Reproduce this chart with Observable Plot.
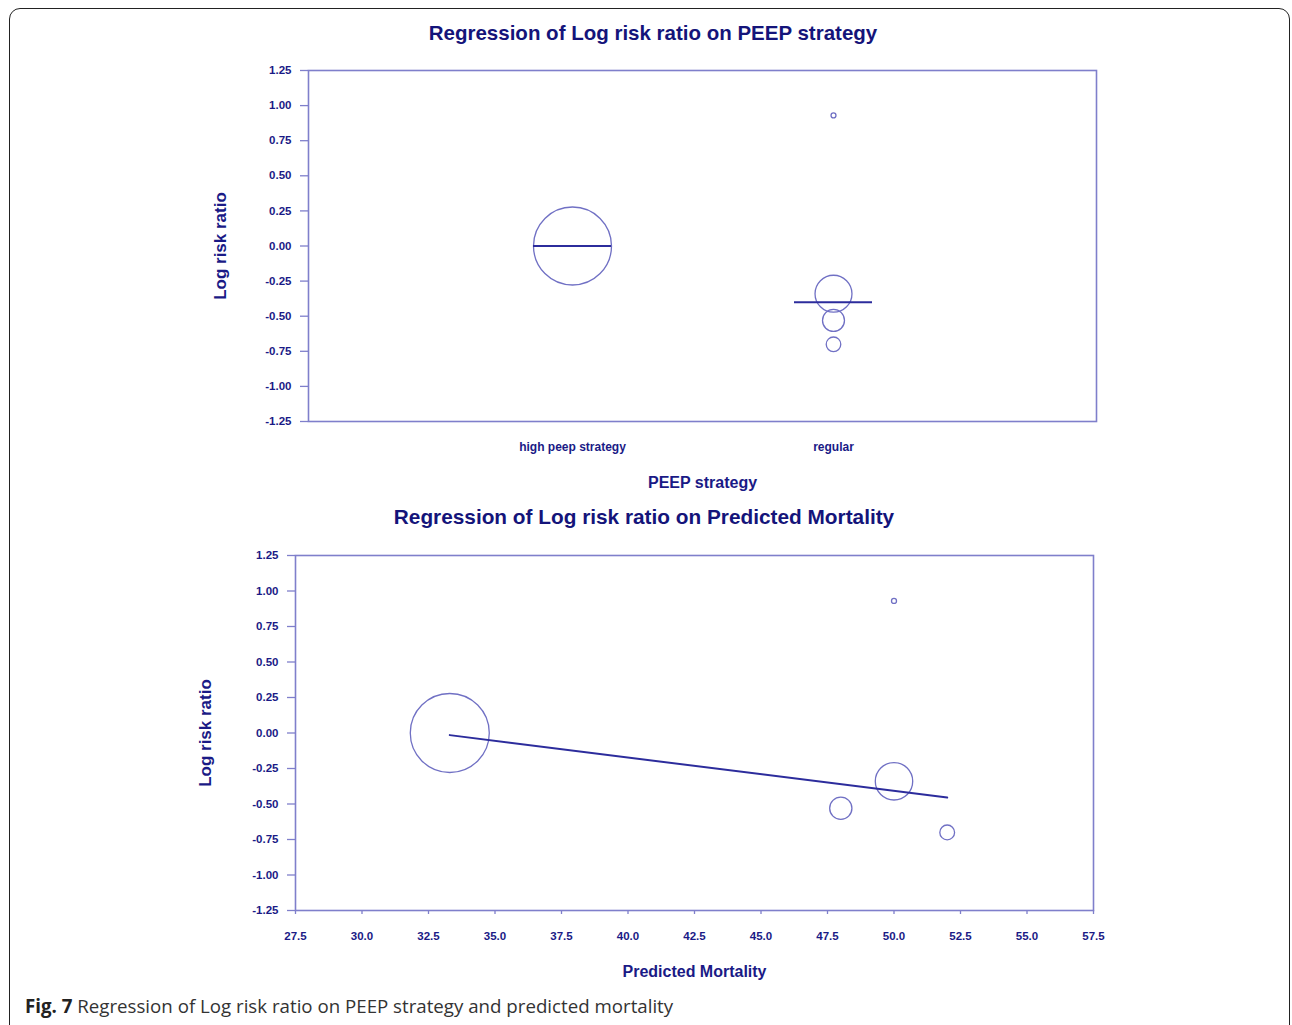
<!DOCTYPE html>
<html><head><meta charset="utf-8">
<script src="https://cdn.jsdelivr.net/npm/d3@7"></script>
<script src="https://cdn.jsdelivr.net/npm/@observablehq/plot@0.6"></script>
<style>
body{margin:0;background:#fff;}
#page{position:relative;width:1292px;height:1025px;overflow:hidden;font-family:"Liberation Sans",Arial,sans-serif;}
#border{position:absolute;left:9px;top:8px;width:1281px;height:1100px;border:1.6px solid #222;border-radius:11px;box-sizing:border-box;}
.title{position:absolute;font-weight:bold;line-height:24px;color:#14147a;white-space:nowrap;transform:translateX(-50%);}
#chart1{position:absolute;left:0;top:0;}
#chart2{position:absolute;left:0;top:495px;}
#caption{position:absolute;left:25px;top:995px;font-family:"Open Sans",sans-serif;font-size:18.7px;line-height:22px;color:#333;white-space:nowrap;}
#caption b{color:#222;}
</style>
</head><body>
<div id="page">
  <div id="border"></div>
  <div class="title" id="t1" style="left:653px;top:21px;font-size:20.5px;"></div>
  <div id="chart1"></div>
  <div class="title" id="t2" style="left:644px;top:505px;font-size:20.8px;"></div>
  <div id="chart2"></div>
  <div id="caption"><b>Fig. 7</b> Regression of Log risk ratio on PEEP strategy and predicted mortality</div>
</div>
<script>
// ---- data ----
const title1 = "Regression of Log risk ratio on PEEP strategy";
const title2 = "Regression of Log risk ratio on Predicted Mortality";
const strategyCategories = ["high peep strategy", "regular"];
const studyStrategy = ["high peep strategy", "regular", "regular", "regular", "regular"];
const studyLogRR = [0.00, 0.93, -0.34, -0.53, -0.70];
const studyWeight = [74.4, 0.3, 16.7, 5.9, 2.6];
const studyMortality = [33.3, 50.0, 50.0, 48.0, 52.0];
const groupFitStrategy = ["high peep strategy", "regular"];
const groupFitLogRR = [0.00, -0.40];
const lineFitMortality = [33.3, 52.0];
const lineFitLogRR = [-0.015, -0.455];
const yTicks = [-1.25, -1.00, -0.75, -0.50, -0.25, 0.00, 0.25, 0.50, 0.75, 1.00, 1.25];
const mortalityTicks = [27.5, 30.0, 32.5, 35.0, 37.5, 40.0, 42.5, 45.0, 47.5, 50.0, 52.5, 55.0, 57.5];

// ---- styles ----
const navy = "#1a1a86";
const frameColor = "#7f7fcb";
const circleColor = "#7070c4";
const lineColor = "#2c2c9c";
const font = "'Liberation Sans', Arial, sans-serif";

const studies = studyStrategy.map((s, i) => ({strategy: s, logRR: studyLogRR[i], weight: studyWeight[i], mortality: studyMortality[i]}));
const groupFit = groupFitStrategy.map((s, i) => ({strategy: s, logRR: groupFitLogRR[i]}));
const lineFit = lineFitMortality.map((m, i) => ({mortality: m, logRR: lineFitLogRR[i]}));
const maxW = d3.max(studyWeight);
const fmtY = d => d.toFixed(2);

document.getElementById("t1").textContent = title1;
document.getElementById("t2").textContent = title2;

const chart1 = Plot.plot({
  width: 1292, height: 500,
  marginLeft: 308, marginRight: 196, marginTop: 70, marginBottom: 79,
  style: {fontFamily: font, fontWeight: "bold", color: navy, background: "transparent", overflow: "visible"},
  x: {type: "band", domain: strategyCategories, paddingInner: 0.702, paddingOuter: 0.855},
  y: {domain: [-1.25, 1.25]},
  r: {domain: [0, maxW], range: [0, 39]},
  marks: [
    Plot.axisY({ticks: yTicks, tickFormat: fmtY, tickSize: 8, tickPadding: 9, fontSize: 11.5, stroke: frameColor, strokeWidth: 1.3, label: null}),
    Plot.axisY({ticks: [], tickSize: 0, label: "Log risk ratio", labelAnchor: "center", labelOffset: 95, labelArrow: "none", fontSize: 17}),
    Plot.axisX({tickSize: 0, tickPadding: 21, fontSize: 12, label: null}),
    Plot.axisX({ticks: [], tickSize: 0, label: "PEEP strategy", labelAnchor: "center", labelOffset: 66, labelArrow: "none", fontSize: 16}),
    Plot.frame({stroke: frameColor, strokeWidth: 1.6}),
    Plot.dot(studies, {x: "strategy", y: "logRR", r: "weight", stroke: circleColor, strokeWidth: 1.3, fill: "none"}),
    Plot.tickY(groupFit, {x: "strategy", y: "logRR", stroke: lineColor, strokeWidth: 2})
  ]
});
document.getElementById("chart1").appendChild(chart1);

const chart2 = Plot.plot({
  width: 1292, height: 500,
  marginLeft: 295, marginRight: 199, marginTop: 60, marginBottom: 85,
  style: {fontFamily: font, fontWeight: "bold", color: navy, background: "transparent", overflow: "visible"},
  x: {domain: [27.5, 57.5]},
  y: {domain: [-1.25, 1.25]},
  r: {domain: [0, maxW], range: [0, 39.5]},
  marks: [
    Plot.axisY({ticks: yTicks, tickFormat: fmtY, tickSize: 8, tickPadding: 9, fontSize: 11.5, stroke: frameColor, strokeWidth: 1.3, label: null}),
    Plot.axisY({ticks: [], tickSize: 0, label: "Log risk ratio", labelAnchor: "center", labelOffset: 97, labelArrow: "none", fontSize: 17}),
    Plot.axisX({ticks: mortalityTicks, tickFormat: d => d.toFixed(1), tickSize: 4, tickPadding: 17, fontSize: 11.5, stroke: frameColor, strokeWidth: 1.3, label: null}),
    Plot.axisX({ticks: [], tickSize: 0, label: "Predicted Mortality", labelAnchor: "center", labelOffset: 66, labelArrow: "none", fontSize: 16}),
    Plot.frame({stroke: frameColor, strokeWidth: 1.6}),
    Plot.dot(studies, {x: "mortality", y: "logRR", r: "weight", stroke: circleColor, strokeWidth: 1.3, fill: "none"}),
    Plot.line(lineFit, {x: "mortality", y: "logRR", stroke: lineColor, strokeWidth: 2})
  ]
});
document.getElementById("chart2").appendChild(chart2);
</script>
</body></html>
